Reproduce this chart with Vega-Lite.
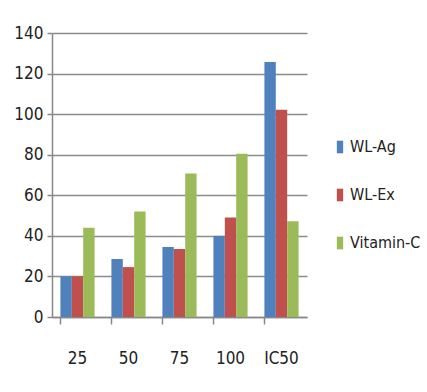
{
  "$schema": "https://vega.github.io/schema/vega-lite/v6.json",
  "autosize": "none",
  "width": 255,
  "height": 284,
  "padding": {"left": 52, "top": 33, "right": 120, "bottom": 75},
  "background": "white",
  "data": {"values": [
    {"cat": "25", "series": "WL-Ag", "value": 20},
    {"cat": "25", "series": "WL-Ex", "value": 20},
    {"cat": "25", "series": "Vitamin-C", "value": 44},
    {"cat": "50", "series": "WL-Ag", "value": 28.6},
    {"cat": "50", "series": "WL-Ex", "value": 24.6},
    {"cat": "50", "series": "Vitamin-C", "value": 52},
    {"cat": "75", "series": "WL-Ag", "value": 34.5},
    {"cat": "75", "series": "WL-Ex", "value": 33.5},
    {"cat": "75", "series": "Vitamin-C", "value": 70.8},
    {"cat": "100", "series": "WL-Ag", "value": 40},
    {"cat": "100", "series": "WL-Ex", "value": 49},
    {"cat": "100", "series": "Vitamin-C", "value": 80.5},
    {"cat": "IC50", "series": "WL-Ag", "value": 125.7},
    {"cat": "IC50", "series": "WL-Ex", "value": 102.2},
    {"cat": "IC50", "series": "Vitamin-C", "value": 47.2}
  ]},
  "mark": {"type": "bar"},
  "encoding": {
    "x": {
      "field": "cat", "type": "nominal",
      "sort": ["25", "50", "75", "100", "IC50"],
      "scale": {"paddingInner": 0.33, "paddingOuter": 0.165},
      "axis": {
        "title": null, "labelAngle": 0, "bandPosition": 0,
        "tickSize": 7, "tickColor": "#888", "tickWidth": 1.5,
        "domainColor": "#888", "domainWidth": 1.5,
        "labelPadding": 26, "labelFontSize": 17, "labelColor": "#222",
        "labelFont": "DejaVu Sans Condensed, sans-serif",
        "grid": false
      }
    },
    "xOffset": {"field": "series", "type": "nominal", "sort": ["WL-Ag", "WL-Ex", "Vitamin-C"], "scale": {"paddingInner": 0, "paddingOuter": 0}},
    "y": {
      "field": "value", "type": "quantitative",
      "scale": {"domain": [0, 140], "nice": false},
      "axis": {
        "title": null, "values": [0, 20, 40, 60, 80, 100, 120, 140],
        "tickSize": 5, "tickColor": "#888", "tickWidth": 1.5,
        "domainColor": "#888", "domainWidth": 1.5,
        "gridColor": "#8c8c8c", "gridWidth": 1.5,
        "labelPadding": 4, "labelFontSize": 17, "labelColor": "#222",
        "labelFont": "DejaVu Sans Condensed, sans-serif"
      }
    },
    "color": {
      "field": "series", "type": "nominal",
      "sort": ["WL-Ag", "WL-Ex", "Vitamin-C"],
      "scale": {"domain": ["WL-Ag", "WL-Ex", "Vitamin-C"], "range": ["#4F81BD", "#C0504D", "#9BBB59"]},
      "legend": {
        "title": null, "orient": "none", "legendX": 280, "legendY": 106,
        "symbolType": "M-0.5,-1H0.5V1H-0.5Z", "symbolSize": 160, "symbolStrokeWidth": 0,
        "symbolOpacity": 1,
        "labelFontSize": 16, "labelColor": "#222", "labelOffset": 2,
        "labelFont": "DejaVu Sans Condensed, sans-serif",
        "rowPadding": 32
      }
    }
  },
  "config": {"view": {"stroke": null}}
}
